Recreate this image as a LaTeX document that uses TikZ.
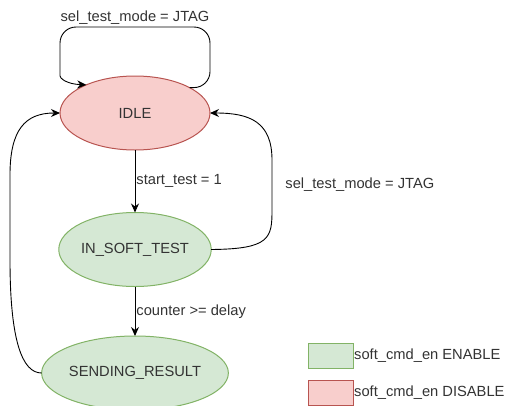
\documentclass[tikz,border=0pt]{standalone}
\usepackage{fontspec}
\setmainfont{Liberation Sans}
\usepackage{tikz}
\usetikzlibrary{arrows.meta,positioning,shapes.geometric}
\definecolor{okfill}{HTML}{D5E8D4}
\definecolor{okline}{HTML}{82B366}
\definecolor{nofill}{HTML}{F8CECC}
\definecolor{noline}{HTML}{B85450}
\definecolor{txt}{HTML}{333333}
\begin{document}
\begin{tikzpicture}[x=1pt,y=-1pt,
		font=\fontsize{14.7}{17}\selectfont, text=txt,
		state/.style={ellipse, draw, line width=1pt, minimum width=150pt, minimum height=74pt, inner sep=0pt, outer sep=0pt},
		arr/.style={-{Stealth[length=9pt,width=8pt]}, line width=0.9pt},
		lbl/.style={inner sep=1pt},
		legbox/.style={draw, line width=1pt, minimum width=45pt, minimum height=25pt, inner sep=0pt, outer sep=0pt}]
	\useasboundingbox (0,0) rectangle (506,405);
			\node[state, fill=nofill, draw=noline] (idle) at (135,113) {IDLE};
			\node[state, fill=okfill, draw=okline] (soft) at (135,249.5) {IN\_SOFT\_TEST};
			\node[state, fill=okfill, draw=okline] (send) at (135,373) {SENDING\_RESULT};
			\draw[arr, rounded corners=16pt]
						(idle.25) -| (210,27) -| node[lbl, pos=0.25, above=1pt] (lloop) {sel\_test\_mode = JTAG} (60,60)
						[sharp corners] .. controls (60,78) and (66,84) .. (idle.150);
			\draw[arr] (idle) -- node[lbl, right] (lstart) {start\_test = 1} (soft);
			\draw[arr] (soft) -- node[lbl, right] (lcount) {counter >= delay} (send);
			\draw[arr] (soft.east) .. controls (270,249) and (272,238) .. (272,210)
						-- node[lbl, right, xshift=12pt] (ljtag) {sel\_test\_mode = JTAG} (272,160)
						.. controls (272,122) and (250,113) .. (idle.east);
			\draw[arr] (send.west) .. controls (22,373) and (10,340) .. (10,260)
						-- (10,175) .. controls (10,130) and (25,113) .. (idle.west);
%						legend
			\node[legbox, fill=okfill, draw=okline] (gbox) at (330.5,355.5) {};
			\node[lbl, right=0pt of gbox] (gtext) {soft\_cmd\_en ENABLE};
			\node[legbox, fill=nofill, draw=noline] (rbox) at (330.5,392.5) {};
			\node[lbl, right=0pt of rbox] (rtext) {soft\_cmd\_en DISABLE};
		\end{tikzpicture}
\end{document}
